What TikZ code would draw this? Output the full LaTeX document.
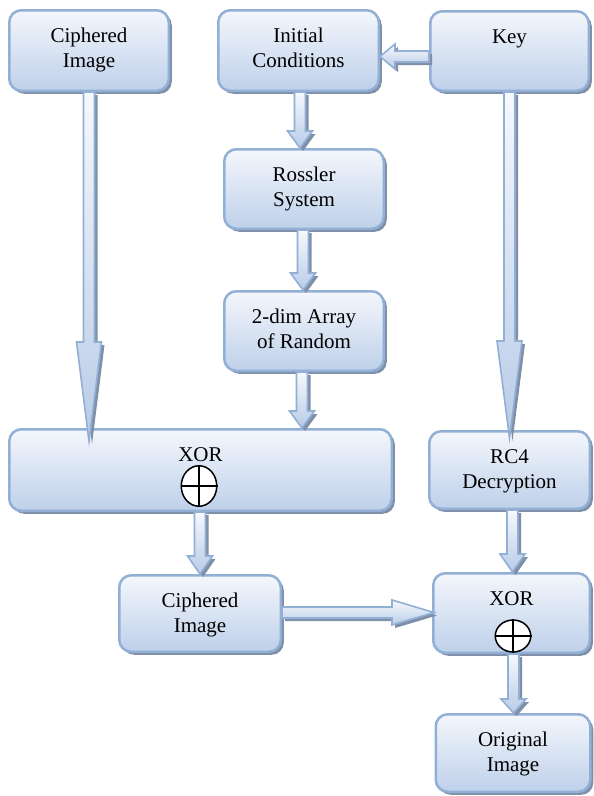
\documentclass[tikz,border=0pt]{standalone}
\usepackage{fontspec}
\setmainfont{Liberation Serif}
\usetikzlibrary{calc,shadows,shapes.geometric}

\definecolor{bordc}{RGB}{146,176,214}
\definecolor{filltop}{RGB}{244,247,252}
\definecolor{fillbot}{RGB}{190,208,234}
\definecolor{arrtop}{RGB}{246,249,253}
\definecolor{arrbot}{RGB}{184,203,231}
\definecolor{shadc}{RGB}{128,143,168}

\tikzset{
  box/.style={draw=bordc, line width=2.5pt, rounded corners=12pt,
    top color=filltop, bottom color=fillbot, inner sep=0pt,
    general shadow={fill=shadc, shadow xshift=3pt, shadow yshift=-3pt}},
  lbl/.style={font=\fontsize{21}{25}\selectfont, align=center,
    inner sep=0pt, anchor=north},
  xorsym/.style={ellipse, draw=black, fill=white, line width=1.5pt,
    inner sep=0pt},
  blockarr/.style={draw=bordc, line width=1.6pt, line join=miter,
    top color=arrtop, bottom color=arrbot,
    general shadow={fill=shadc, shadow xshift=3pt, shadow yshift=-3pt}},
}

% block arrow from #1 to the tip #2, head length #3
\newcommand\blockarrow[3]{%
  \coordinate (bs) at #1;
  \coordinate (be) at #2;
  \coordinate (hb) at ($(be)!#3!(bs)$);
  \path[blockarr] ($(bs)!5.5pt!90:(be)$) -- ($(hb)!5.5pt!90:(be)$)
    -- ($(hb)!12.5pt!90:(be)$) -- (be) -- ($(hb)!12.5pt!-90:(be)$)
    -- ($(hb)!5.5pt!-90:(be)$) -- ($(bs)!5.5pt!-90:(be)$) -- cycle;
}

\begin{document}
\begin{tikzpicture}[x=1pt, y=-1pt]
\useasboundingbox[fill=white] (0,0) rectangle (594,796);

% boxes
\node[box, minimum width=159.5pt, minimum height=80.5pt] (ci)   at (89,50.5)    {};
\node[box, minimum width=160.5pt, minimum height=80.5pt] (init) at (298.5,50.5) {};
\node[box, minimum width=158.5pt, minimum height=79.5pt] (key)  at (509.5,51)   {};
\node[box, minimum width=159.5pt, minimum height=79.5pt] (ross) at (304,189)    {};
\node[box, minimum width=159.5pt, minimum height=79.5pt] (arr)  at (304,331)    {};
\node[box, minimum width=382.5pt, minimum height=81.5pt] (xorA) at (200.5,470)  {};
\node[box, minimum width=160.5pt, minimum height=77.5pt] (rc4)  at (509.5,470)  {};
\node[box, minimum width=156.5pt, minimum height=79.5pt] (xorB) at (511.5,613)  {};
\node[box, minimum width=161.5pt, minimum height=76.5pt] (ci2)  at (200,613.5)  {};
\node[box, minimum width=154.5pt, minimum height=77.5pt] (orig) at (513,753)    {};

% labels
\node[lbl] (ci-t)   at ($(ci.north)+(0,16)$)   {\strut Ciphered\\Image};
\node[lbl] (init-t) at ($(init.north)+(0,16)$) {\strut Initial\\Conditions};
\node[lbl] (key-t)  at ($(key.north)+(0,16)$)  {\strut Key};
\node[lbl] (ross-t) at ($(ross.north)+(0,16)$) {\strut Rossler\\System};
\node[lbl] (arr-t)  at ($(arr.north)+(0,16)$)  {\strut 2-dim Array\\of Random};
\node[lbl] (xorA-t) at ($(xorA.north)+(0,16)$) {\strut XOR};
\node[lbl] (rc4-t)  at ($(rc4.north)+(0,16)$)  {\strut RC4\\Decryption};
\node[lbl] (xorB-t) at ($(xorB.north)+(0,16)$) {\strut XOR};
\node[lbl] (ci2-t)  at ($(ci2.north)+(0,16)$)  {\strut Ciphered\\Image};
\node[lbl] (orig-t) at ($(orig.north)+(0,16)$) {\strut Original\\Image};

% block arrows
\blockarrow{($(key.west)+(0,5.5)$)}{($(init.east)+(0,6)$)}{15pt}
\blockarrow{($(init.south)+(1.5,0)$)}{($(ross.north)+(-4,0)$)}{17pt}
\blockarrow{($(ross.south)+(-1,0)$)}{($(arr.north)+(-1,0)$)}{17pt}
\blockarrow{($(arr.south)+(-2,0)$)}{($(arr.south |- xorA.north)+(-2,0)$)}{17pt}
\blockarrow{(ci.south)}{($(ci.south |- xorA.north)+(0,13)$)}{99pt}
\blockarrow{(key.south)}{($(key.south |- rc4.north)+(0,8)$)}{97pt}
\blockarrow{(xorA.south -| ci2.north)}{(ci2.north)}{18pt}
\blockarrow{($(rc4.south)+(3,0)$)}{($(rc4.south |- xorB.north)+(3,0)$)}{18pt}
\blockarrow{($(xorB.south)+(2,0)$)}{($(xorB.south |- orig.north)+(2,0)$)}{14pt}
\blockarrow{($(ci2.east)+(0,-1)$)}{($(xorB.west |- ci2.east)+(2,-1)$)}{42pt}

% XOR symbols
\node[xorsym, minimum width=35.5pt, minimum height=40.5pt] (xa) at ($(xorA.north)+(-1.5,58)$) {};
\draw[line width=1.5pt] (xa.north) -- (xa.south) (xa.west) -- (xa.east);
\node[xorsym, minimum width=35.5pt, minimum height=32pt] (xb) at ($(xorB.north)+(1.5,64)$) {};
\draw[line width=1.5pt] (xb.north) -- (xb.south) (xb.west) -- (xb.east);
\end{tikzpicture}
\end{document}
